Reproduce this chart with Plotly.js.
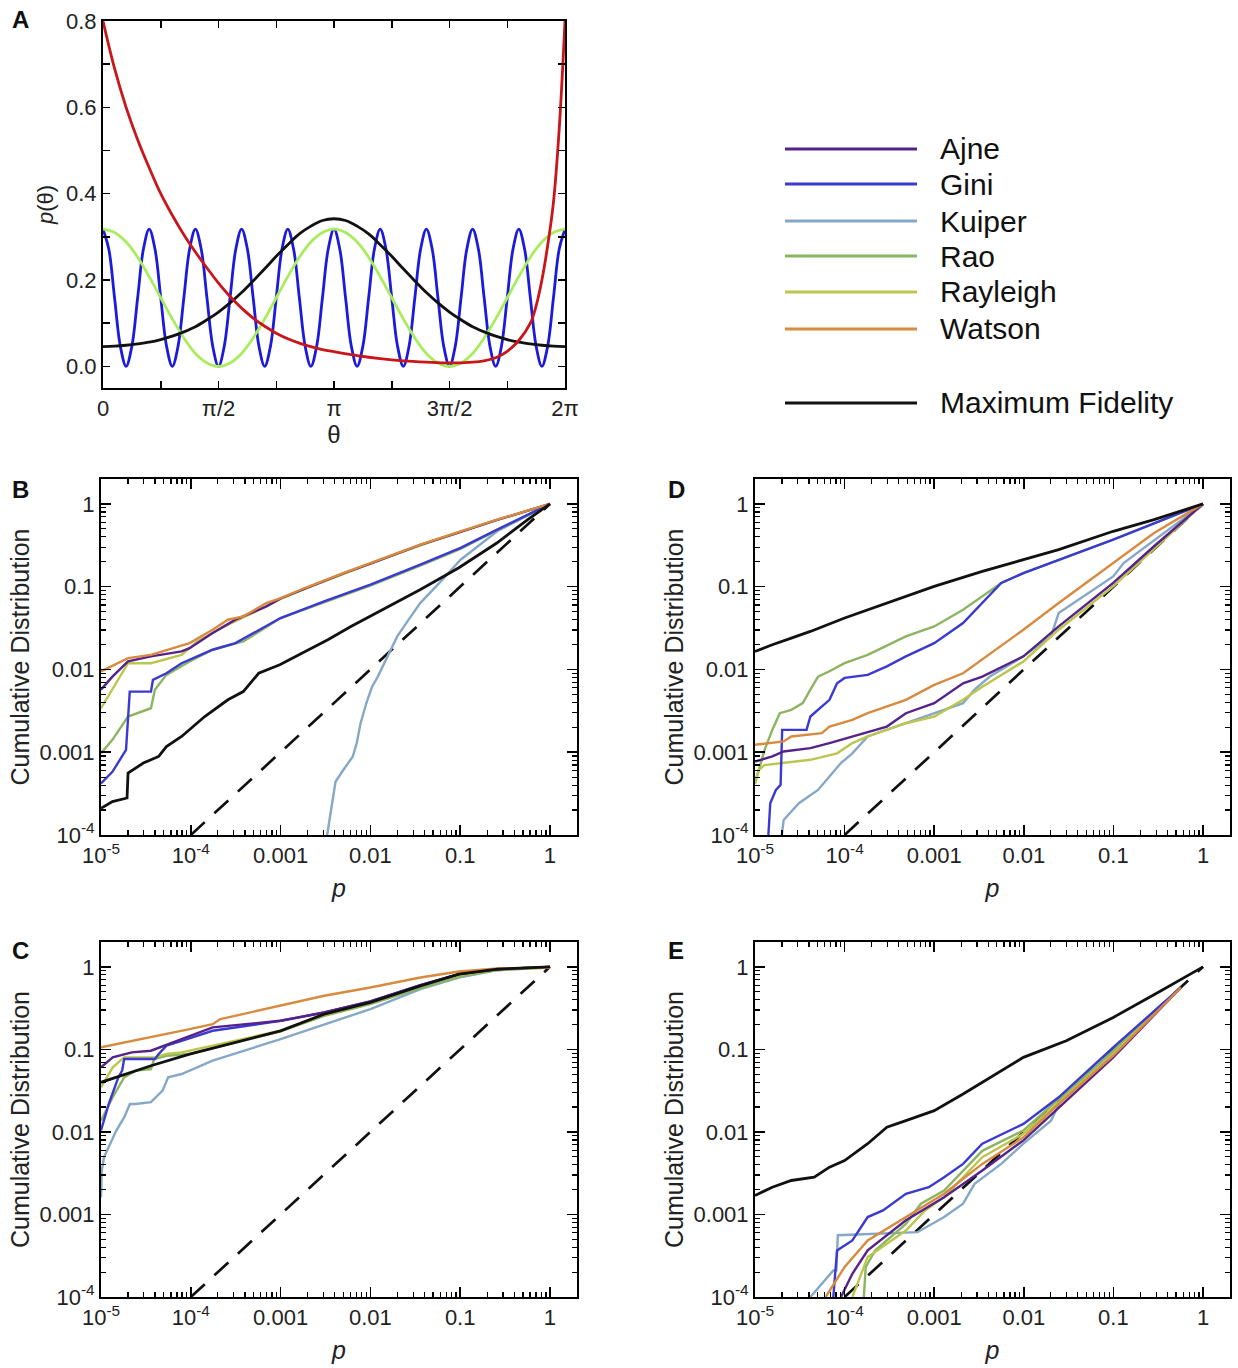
<!DOCTYPE html>
<html>
<head>
<meta charset="utf-8">
<script src="https://cdn.plot.ly/plotly-3.0.1.min.js"></script>
<style>html,body{margin:0;padding:0;background:#fff;}#chart{width:1238px;height:1368px;}</style>
</head>
<body>
<div id="chart"></div>
<script>
// ---------- Panel A: example densities p(theta) ----------
const thetaFine = [0,0.0785,0.1571,0.2356,0.3142,0.3927,0.4712,0.5498,0.6283,0.7069,0.7854,0.8639,0.9425,1.0210,1.0996,1.1781,1.2566,1.3352,1.4137,1.4923,1.5708,1.6493,1.7279,1.8064,1.8850,1.9635,2.0420,2.1206,2.1991,2.2777,2.3562,2.4347,2.5133,2.5918,2.6704,2.7489,2.8274,2.9060,2.9845,3.0631,3.1416,3.2201,3.2987,3.3772,3.4558,3.5343,3.6128,3.6914,3.7699,3.8485,3.9270,4.0055,4.0841,4.1626,4.2412,4.3197,4.3982,4.4768,4.5553,4.6338,4.7124,4.7909,4.8695,4.9480,5.0265,5.1051,5.1836,5.2622,5.3407,5.4192,5.4978,5.5763,5.6549,5.7334,5.8119,5.8905,5.9690,6.0476,6.1261,6.2046,6.2832];
const blueDensity = [0.318,0.272,0.159,0.047,0,0.047,0.159,0.272,0.318,0.272,0.159,0.047,0,0.047,0.159,0.272,0.318,0.272,0.159,0.047,0,0.047,0.159,0.272,0.318,0.272,0.159,0.047,0,0.047,0.159,0.272,0.318,0.272,0.159,0.047,0,0.047,0.159,0.272,0.318,0.272,0.159,0.047,0,0.047,0.159,0.272,0.318,0.272,0.159,0.047,0,0.047,0.159,0.272,0.318,0.272,0.159,0.047,0,0.047,0.159,0.272,0.318,0.272,0.159,0.047,0,0.047,0.159,0.272,0.318,0.272,0.159,0.047,0,0.047,0.159,0.272,0.318];
const thetaCoarse = [0,0.1571,0.3142,0.4712,0.6283,0.7854,0.9425,1.0996,1.2566,1.4137,1.5708,1.7279,1.8850,2.0420,2.1991,2.3562,2.5133,2.6704,2.8274,2.9845,3.1416,3.2987,3.4558,3.6128,3.7699,3.9270,4.0841,4.2412,4.3982,4.5553,4.7124,4.8695,5.0265,5.1836,5.3407,5.4978,5.6549,5.8119,5.9690,6.1261,6.2832];
const greenDensity = [0.318,0.310,0.288,0.253,0.208,0.159,0.110,0.066,0.030,0.008,0,0.008,0.030,0.066,0.110,0.159,0.208,0.253,0.288,0.310,0.318,0.310,0.288,0.253,0.208,0.159,0.110,0.066,0.030,0.008,0,0.008,0.030,0.066,0.110,0.159,0.208,0.253,0.288,0.310,0.318];
const blackDensity = [0.046,0.047,0.049,0.052,0.056,0.062,0.070,0.080,0.092,0.108,0.126,0.147,0.171,0.198,0.226,0.255,0.282,0.307,0.325,0.338,0.342,0.338,0.325,0.307,0.282,0.255,0.226,0.198,0.171,0.147,0.126,0.108,0.092,0.080,0.070,0.062,0.056,0.052,0.049,0.047,0.046];
const thetaRed = [0,0.1571,0.3142,0.4712,0.6283,0.7854,0.9425,1.0996,1.2566,1.4137,1.5708,1.7279,1.8850,2.0420,2.1991,2.3562,2.5133,2.6704,2.8274,2.9845,3.1416,3.4558,3.7699,4.0841,4.3982,4.7124,5.0265,5.1836,5.3407,5.4978,5.6549,5.8119,5.8905,5.9690,6.0476,6.1261,6.2046,6.2832];
const redDensity = [0.80,0.69,0.60,0.525,0.46,0.40,0.35,0.305,0.265,0.228,0.193,0.162,0.135,0.112,0.093,0.077,0.064,0.054,0.046,0.039,0.034,0.025,0.018,0.013,0.010,0.008,0.010,0.013,0.020,0.035,0.060,0.100,0.140,0.200,0.280,0.380,0.550,0.80];
const thetaTickVals = [0,1.5708,3.1416,4.7124,6.2832];
const thetaTickText = ['0','π/2','π','3π/2','2π'];
const thetaMinorVals = [0.7854,2.3562,3.9270,5.4978];
const densityTickVals = [0,0.2,0.4,0.6,0.8];
const densityTickText = ['0.0','0.2','0.4','0.6','0.8'];
const densityMinorVals = [0.1,0.3,0.5,0.7];

// ---------- Legend / series ----------
const seriesNames = ['Ajne','Gini','Kuiper','Rao','Rayleigh','Watson','Maximum Fidelity'];
const seriesColors = ['#55228a','#3a3ad2','#84a8c6','#8cb462','#bcc54c','#d88a3e','#111111'];

// ---------- Panel B ----------
const bAjneP = [1e-5,1.34e-5,2e-5,3.6e-5,7.9e-5,9.7e-5,1.75e-4,3.14e-4,6.95e-4,1e-3,1.86e-3,5e-3,0.01,0.0359,0.101,0.258,1];
const bAjneC = [5.7e-3,8.2e-3,0.0125,0.0144,0.0165,0.0181,0.0275,0.040,0.0578,0.072,0.095,0.145,0.19,0.32,0.46,0.64,1];
const bGiniP = [1e-5,1.34e-5,1.9e-5,2.03e-5,2.09e-5,3.6e-5,3.79e-5,5.35e-5,7.9e-5,1.18e-4,1.75e-4,3.14e-4,6.95e-4,1e-3,3.05e-3,0.01,0.0359,0.101,0.258,1];
const bGiniC = [4.2e-4,5.8e-4,1.07e-3,3.9e-3,5.4e-3,5.4e-3,7.5e-3,9.0e-3,0.0119,0.0144,0.0173,0.0208,0.0331,0.0418,0.0665,0.106,0.185,0.294,0.489,1];
const bKuiperP = [3.3e-3,4.09e-3,4.99e-3,6.38e-3,7.05e-3,7.78e-3,9.0e-3,0.01045,0.0121,0.0148,0.0199,0.0267,0.0359,0.0587,0.101,0.258,1];
const bKuiperC = [1e-4,4.4e-4,6.1e-4,8.9e-4,1.29e-3,2.24e-3,3.9e-3,6.2e-3,8.2e-3,0.0131,0.0251,0.040,0.0634,0.111,0.212,0.467,1];
const bRaoP = [1e-5,1.34e-5,2e-5,3.6e-5,3.98e-5,5.35e-5,9.7e-5,1.75e-4,3.85e-4,1e-3,3.05e-3,0.01,0.0359,0.101,0.258,1];
const bRaoC = [9.7e-4,1.41e-3,2.7e-3,3.4e-3,5.7e-3,8.6e-3,0.0125,0.0173,0.0218,0.0418,0.0648,0.103,0.180,0.286,0.48,1];
const bRayleighP = [1e-5,1.34e-5,2e-5,3.6e-5,7.9e-5,1.18e-4,1.75e-4,2.59e-4,6.95e-4,1e-3,1.86e-3,5e-3,0.01,0.0359,0.101,0.258,1];
const bRayleighC = [3.4e-3,5.7e-3,0.0119,0.0119,0.015,0.0218,0.0275,0.0347,0.0578,0.071,0.094,0.143,0.19,0.315,0.46,0.64,1];
const bWatsonP = [1e-5,2e-5,3.6e-5,9.7e-5,1.75e-4,2.59e-4,3.85e-4,6.95e-4,1e-3,1.86e-3,4.99e-3,0.01,0.0359,0.101,0.258,1];
const bWatsonC = [0.00946,0.0137,0.0150,0.0208,0.0302,0.0399,0.0438,0.0634,0.0729,0.0964,0.146,0.193,0.322,0.467,0.646,1];
const bFidelityP = [1e-5,1.34e-5,1.95e-5,2e-5,2.96e-5,4.39e-5,5.35e-5,7.9e-5,1.43e-4,2.59e-4,3.84e-4,5.7e-4,9.8e-4,1.86e-3,3.36e-3,6.07e-3,9.9e-3,0.0218,0.0357,0.0957,0.256,0.565,1];
const bFidelityC = [2.1e-4,2.53e-4,2.8e-4,5.6e-4,7.4e-4,8.9e-4,1.17e-3,1.55e-3,2.7e-3,4.3e-3,5.4e-3,9.0e-3,0.0114,0.0165,0.0229,0.0331,0.0438,0.0697,0.092,0.168,0.337,0.646,1];

// ---------- Panel D ----------
const dAjneP = [1e-5,1.56e-5,2.09e-5,4.15e-5,6.78e-5,1.22e-4,2.96e-4,4.83e-4,1e-3,2.1e-3,3.44e-3,9.9e-3,0.0245,0.0995,0.284,1];
const dAjneC = [7.7e-4,8.9e-4,1.02e-3,1.12e-3,1.29e-3,1.55e-3,2.04e-3,2.96e-3,3.92e-3,6.8e-3,8.2e-3,0.0144,0.0331,0.111,0.308,1];
const dGiniP = [1.41e-5,1.48e-5,1.71e-5,1.93e-5,2.01e-5,3.76e-5,4.15e-5,5.57e-5,6.78e-5,8.24e-5,1e-4,1.81e-4,2.96e-4,4.83e-4,1e-3,2.1e-3,5.6e-3,9.9e-3,0.0995,1];
const dGiniC = [1e-4,2.42e-4,3.5e-4,4.03e-4,1.86e-3,1.86e-3,2.7e-3,3.57e-3,4.3e-3,6.8e-3,7.9e-3,8.6e-3,0.0109,0.0144,0.0208,0.0363,0.111,0.146,0.371,1];
const dKuiperP = [1.99e-5,2.09e-5,3.09e-5,5.05e-5,6.78e-5,9.1e-5,1.22e-4,1.81e-4,4.83e-4,1e-3,2.1e-3,2.82e-3,4.18e-3,9.9e-3,0.0201,0.0245,0.0995,0.130,1];
const dKuiperC = [1e-4,1.52e-4,2.42e-4,3.5e-4,5.1e-4,7.4e-4,9.7e-4,1.55e-3,2.24e-3,2.96e-3,3.92e-3,5.7e-3,8.2e-3,0.0144,0.0251,0.048,0.133,0.193,1];
const dRaoP = [1e-5,1.28e-5,1.56e-5,1.89e-5,2.54e-5,3.41e-5,4.15e-5,5.05e-5,6.78e-5,1e-4,1.81e-4,4.83e-4,1e-3,2.1e-3,5.6e-3,9.9e-3,0.0995,1];
const dRaoC = [4.2e-4,1.07e-3,1.86e-3,2.96e-3,3.25e-3,3.92e-3,5.7e-3,8.2e-3,9.5e-3,0.0119,0.015,0.0251,0.0331,0.0527,0.111,0.146,0.371,1];
const dRayleighP = [1e-5,1.1e-5,1.28e-5,4.15e-5,8.24e-5,1.22e-4,1.81e-4,4.83e-4,1e-3,2.1e-3,3.44e-3,9.9e-3,0.0245,0.0995,1];
const dRayleighC = [4.2e-4,6.1e-4,7.0e-4,8.1e-4,9.7e-4,1.29e-3,1.55e-3,2.24e-3,2.7e-3,4.3e-3,6.2e-3,0.0125,0.0302,0.101,1];
const dWatsonP = [1e-5,2.09e-5,2.54e-5,5.57e-5,6.78e-5,1.22e-4,1.81e-4,4.83e-4,1e-3,2.1e-3,9.9e-3,0.0245,0.0995,0.284,1];
const dWatsonC = [1.23e-3,1.35e-3,1.55e-3,1.7e-3,2.04e-3,2.46e-3,2.96e-3,4.3e-3,6.5e-3,9.0e-3,0.0302,0.0634,0.193,0.446,1];
const dFidelityP = [1e-5,1.56e-5,2.54e-5,4.15e-5,1e-4,2.96e-4,1e-3,3.44e-3,9.9e-3,0.0245,0.0995,0.284,1];
const dFidelityC = [0.0165,0.0199,0.0239,0.0288,0.0418,0.0634,0.101,0.153,0.212,0.280,0.467,0.646,1];

// ---------- Panel C ----------
const cAjneP = [1e-5,1.35e-5,2.2e-5,3.6e-5,7.9e-5,1.75e-4,1e-3,3.06e-3,0.01,0.0361,0.0968,0.26,1];
const cAjneC = [0.0606,0.080,0.092,0.0964,0.133,0.185,0.222,0.280,0.381,0.60,0.815,0.937,1];
const cGiniP = [1e-5,1.22e-5,1.56e-5,1.72e-5,1.81e-5,3.98e-5,4.4e-5,5.36e-5,7.9e-5,1.75e-4,1e-3,3.06e-3,0.01,0.0361,0.0968,0.26,1];
const cGiniC = [0.0104,0.0218,0.0458,0.0552,0.0764,0.0764,0.0878,0.111,0.127,0.168,0.222,0.280,0.381,0.60,0.815,0.937,1];
const cKuiperP = [1e-5,1.02e-5,1.08e-5,1.22e-5,1.48e-5,1.81e-5,2.1e-5,2.43e-5,3.6e-5,4.85e-5,5.6e-5,7.9e-5,9.7e-5,1.75e-4,1e-3,0.01,0.0361,0.0968,0.26,1];
const cKuiperC = [1.62e-3,3.4e-3,4.94e-3,6.5e-3,0.0104,0.015,0.0218,0.0218,0.0229,0.0316,0.0458,0.0503,0.0552,0.0729,0.133,0.308,0.537,0.743,0.911,1];
const cRaoP = [1e-5,1.35e-5,1.81e-5,2.43e-5,3.6e-5,3.91e-5,5.36e-5,9.7e-5,1e-3,3.06e-3,0.01,0.0361,0.0968,0.26,1];
const cRaoC = [0.0137,0.0263,0.0458,0.0552,0.0578,0.0764,0.0838,0.0878,0.165,0.255,0.353,0.552,0.757,0.911,0.98];
const cRayleighP = [1e-5,1.35e-5,1.81e-5,3.98e-5,5.36e-5,7.9e-5,1.75e-4,1e-3,3.06e-3,0.01,0.0361,0.0968,0.26,1];
const cRayleighC = [0.0347,0.0606,0.080,0.080,0.0878,0.092,0.111,0.168,0.262,0.371,0.589,0.80,0.93,0.98];
const cWatsonP = [1e-5,3.6e-5,9.7e-5,1.75e-4,2.13e-4,2.6e-4,1e-3,3.06e-3,0.01,0.0361,0.0968,0.26,1];
const cWatsonC = [0.106,0.140,0.176,0.202,0.233,0.244,0.337,0.446,0.562,0.743,0.879,0.954,0.98];
const cFidelityP = [1e-5,1.64e-5,3.6e-5,9.7e-5,2.6e-4,1e-3,3.06e-3,0.01,0.0361,0.0968,0.26,1];
const cFidelityC = [0.0399,0.048,0.0634,0.0878,0.116,0.168,0.267,0.371,0.589,0.815,0.937,1];

// ---------- Panel E ----------
const eAjneP = [9.1e-5,1.22e-4,1.81e-4,4.83e-4,1.29e-3,3.44e-3,9.9e-3,0.0995,0.566];
const eAjneC = [1e-4,1.91e-4,3.67e-4,8.5e-4,1.62e-3,3.4e-3,7.9e-3,0.080,0.562];
const eGiniP = [7.48e-5,8.24e-5,1.22e-4,1.81e-4,2.68e-4,4.83e-4,8.7e-4,1.29e-3,2.1e-3,3.44e-3,9.9e-3,0.0245,0.0995,0.566];
const eGiniC = [1e-4,3.67e-4,4.85e-4,9.3e-4,1.12e-3,1.78e-3,2.14e-3,2.83e-3,4.1e-3,7.2e-3,0.0125,0.0263,0.106,0.562];
const eKuiperP = [4.15e-5,7.48e-5,8.1e-5,8.4e-5,6.5e-4,1.29e-3,2.1e-3,2.82e-3,5.6e-3,9.9e-3,0.0201,0.027,0.0877,0.130,0.566];
const eKuiperC = [1e-4,2.1e-4,2.1e-4,5.6e-4,6.1e-4,9.3e-4,1.35e-3,2.35e-3,4.1e-3,7.2e-3,0.0137,0.0263,0.080,0.127,0.562];
const eRaoP = [1.64e-4,1.72e-4,2.2e-4,4.83e-4,7.1e-4,1.29e-3,3.44e-3,9.9e-3,0.0995,0.566];
const eRaoC = [1e-4,2.31e-4,3.67e-4,7.7e-4,1.35e-3,1.95e-3,5.9e-3,0.0104,0.0964,0.562];
const eRayleighP = [1.22e-4,1.81e-4,4.83e-4,7.9e-4,1.29e-3,3.44e-3,9.9e-3,0.0995,0.566];
const eRayleighC = [1e-4,3.05e-4,6.4e-4,1.12e-3,1.62e-3,4.94e-3,9.5e-3,0.0878,0.562];
const eWatsonP = [6.15e-5,1e-4,1.81e-4,4.83e-4,1.29e-3,3.44e-3,9.9e-3,0.0245,0.0995,0.566];
const eWatsonC = [1e-4,2.31e-4,4.85e-4,9.3e-4,1.78e-3,4.1e-3,8.6e-3,0.0218,0.0838,0.562];
const eFidelityP = [1e-5,1.56e-5,2.54e-5,4.58e-5,6.78e-5,1e-4,1.81e-4,2.96e-4,4.83e-4,1e-3,2.1e-3,9.9e-3,0.0298,0.0995,0.314,1];
const eFidelityC = [1.7e-3,2.14e-3,2.58e-3,2.83e-3,3.74e-3,4.5e-3,7.2e-3,0.0114,0.0137,0.0181,0.0288,0.080,0.127,0.244,0.489,1];

// reference diagonal (uniform p-values)
const diagP = [1e-4, 1];
const diagC = [1e-4, 1];

// tick labels for log axes
const pTickVals = [1e-5,1e-4,1e-3,1e-2,1e-1,1];
const pTickText = ['10<sup>-5</sup>','10<sup>-4</sup>','0.001','0.01','0.1','1'];
const cdfTickVals = [1e-4,1e-3,1e-2,1e-1,1];
const cdfTickText = ['10<sup>-4</sup>','0.001','0.01','0.1','1'];

// ---------- build ----------
const FONT = 'Liberation Sans, Arial, Helvetica, sans-serif';
function minorDecades(lo, hi) {
  const v = [];
  for (let e = lo; e <= hi; e++) for (let d = 2; d <= 9; d++) v.push(d * Math.pow(10, e));
  return v;
}
const pMinor = minorDecades(-5, -1).concat([2]);
const cdfMinor = minorDecades(-4, -1).concat([2]);

const traces = [];
// Panel A
traces.push({x: thetaFine, y: blueDensity, xaxis:'x', yaxis:'y', mode:'lines', line:{color:'#1b1bd9', width:2.8, shape:'spline', smoothing:1}, showlegend:false, hoverinfo:'skip'});
traces.push({x: thetaCoarse, y: greenDensity, xaxis:'x', yaxis:'y', mode:'lines', line:{color:'#a9ec5c', width:2.8, shape:'spline'}, showlegend:false, hoverinfo:'skip'});
traces.push({x: thetaCoarse, y: blackDensity, xaxis:'x', yaxis:'y', mode:'lines', line:{color:'#111', width:2.8, shape:'spline'}, showlegend:false, hoverinfo:'skip'});
traces.push({x: thetaRed, y: redDensity, xaxis:'x', yaxis:'y', mode:'lines', line:{color:'#c8161b', width:2.8, shape:'spline'}, showlegend:false, hoverinfo:'skip'});

const panels = [
  {xa:'x2', ya:'y2', series:[[bAjneP,bAjneC],[bGiniP,bGiniC],[bKuiperP,bKuiperC],[bRaoP,bRaoC],[bRayleighP,bRayleighC],[bWatsonP,bWatsonC],[bFidelityP,bFidelityC]]},
  {xa:'x3', ya:'y3', series:[[dAjneP,dAjneC],[dGiniP,dGiniC],[dKuiperP,dKuiperC],[dRaoP,dRaoC],[dRayleighP,dRayleighC],[dWatsonP,dWatsonC],[dFidelityP,dFidelityC]]},
  {xa:'x4', ya:'y4', series:[[cAjneP,cAjneC],[cGiniP,cGiniC],[cKuiperP,cKuiperC],[cRaoP,cRaoC],[cRayleighP,cRayleighC],[cWatsonP,cWatsonC],[cFidelityP,cFidelityC]]},
  {xa:'x5', ya:'y5', series:[[eAjneP,eAjneC],[eGiniP,eGiniC],[eKuiperP,eKuiperC],[eRaoP,eRaoC],[eRayleighP,eRayleighC],[eWatsonP,eWatsonC],[eFidelityP,eFidelityC]]}
];
const drawOrder = [2,3,4,1,0,5,6];
panels.forEach(pn => {
  traces.push({x: diagP, y: diagC, xaxis: pn.xa, yaxis: pn.ya, mode:'lines', line:{color:'#111', width:2.7, dash:'19px,13px'}, showlegend:false, hoverinfo:'skip'});
  drawOrder.forEach(i => {
    traces.push({x: pn.series[i][0], y: pn.series[i][1], xaxis: pn.xa, yaxis: pn.ya, name: seriesNames[i], mode:'lines',
      line:{color: seriesColors[i], width: i === 6 ? 2.8 : 2.4}, showlegend:false, hoverinfo:'skip'});
  });
});

const px = v => v / 1238;
const py = v => 1 - v / 1368;
const TICKFONT = {family:FONT, size:22, color:'#222'};
const common = {showline:true, linewidth:2, linecolor:'#000', mirror:'allticks', ticks:'inside', tickcolor:'#000', tickwidth:1.5,
  showgrid:false, zeroline:false, fixedrange:true, automargin:false, tickfont:TICKFONT};

function logX(d0, d1, anchor) {
  return Object.assign({}, common, {type:'log', domain:[px(d0), px(d1)], anchor, range:[-5, Math.log10(2)],
    tickmode:'array', tickvals:pTickVals, ticktext:pTickText, ticklen:10,
    minor:{tickmode:'array', tickvals:pMinor, ticks:'inside', ticklen:5, tickwidth:1.3, tickcolor:'#000', showgrid:false},
    title:{text:'<i>p</i>', font:{family:FONT, size:25, color:'#222'}, standoff:12}});
}
function logY(d0, d1, anchor) {
  return Object.assign({}, common, {type:'log', domain:[py(d1), py(d0)], anchor, range:[-4, Math.log10(2)],
    tickmode:'array', tickvals:cdfTickVals, ticktext:cdfTickText, ticklen:10,
    minor:{tickmode:'array', tickvals:cdfMinor, ticks:'inside', ticklen:5, tickwidth:1.3, tickcolor:'#000', showgrid:false},
    title:{text:'Cumulative Distribution', font:{family:FONT, size:25, color:'#222'}, standoff:3}});
}

const layout = {
  width:1238, height:1368, margin:{l:0, r:0, t:0, b:0}, paper_bgcolor:'#fff', plot_bgcolor:'#fff', showlegend:false,
  font:{family:FONT, color:'#222'},
  xaxis: Object.assign({}, common, {domain:[px(103), px(565)], anchor:'y', range:[0, 6.2832], tickmode:'array',
    tickvals:thetaTickVals, ticktext:thetaTickText, ticklen:7,
    minor:{tickmode:'array', tickvals:thetaMinorVals, ticks:'inside', ticklen:7, tickwidth:1.5, tickcolor:'#000', showgrid:false},
    title:{text:'θ', font:{family:FONT, size:24, color:'#222'}, standoff:6}}),
  yaxis: Object.assign({}, common, {domain:[py(388), py(21)], anchor:'x', range:[-0.05, 0.8], tickmode:'array',
    tickvals:densityTickVals, ticktext:densityTickText, ticklen:7,
    minor:{tickmode:'array', tickvals:densityMinorVals, ticks:'inside', ticklen:7, tickwidth:1.5, tickcolor:'#000', showgrid:false},
    title:{text:'<i>p</i>(θ)', font:{family:FONT, size:22, color:'#222'}, standoff:6}}),
  xaxis2: logX(101, 577, 'y2'), yaxis2: logY(479, 835, 'x2'),
  xaxis3: logX(755, 1230, 'y3'), yaxis3: logY(479, 835, 'x3'),
  xaxis4: logX(101, 577, 'y4'), yaxis4: logY(942, 1297, 'x4'),
  xaxis5: logX(755, 1230, 'y5'), yaxis5: logY(942, 1297, 'x5'),
  annotations: [], shapes: []
};

// panel letters
[['A',10,20],['B',10,490],['D',666,490],['C',10,950],['E',666,950]].forEach(([t,x,y]) => {
  layout.annotations.push({text:'<b>'+t+'</b>', xref:'paper', yref:'paper', x:px(x), y:py(y), xanchor:'left', yanchor:'middle',
    showarrow:false, font:{family:FONT, size:24, color:'#111'}});
});

// legend drawn as line samples + labels
const legendRows = [149,184,221,256,292,329,403];
seriesNames.forEach((nm, i) => {
  layout.shapes.push({type:'line', xref:'paper', yref:'paper', x0:px(785), x1:px(917), y0:py(legendRows[i]), y1:py(legendRows[i]),
    line:{color:seriesColors[i], width:2.8}});
  layout.annotations.push({text:nm, xref:'paper', yref:'paper', x:px(938), y:py(legendRows[i]), xanchor:'left', yanchor:'middle',
    showarrow:false, font:{family:FONT, size:30, color:'#111'}});
});

Plotly.newPlot('chart', traces, layout, {staticPlot:true, displayModeBar:false});
</script>
</body>
</html>
